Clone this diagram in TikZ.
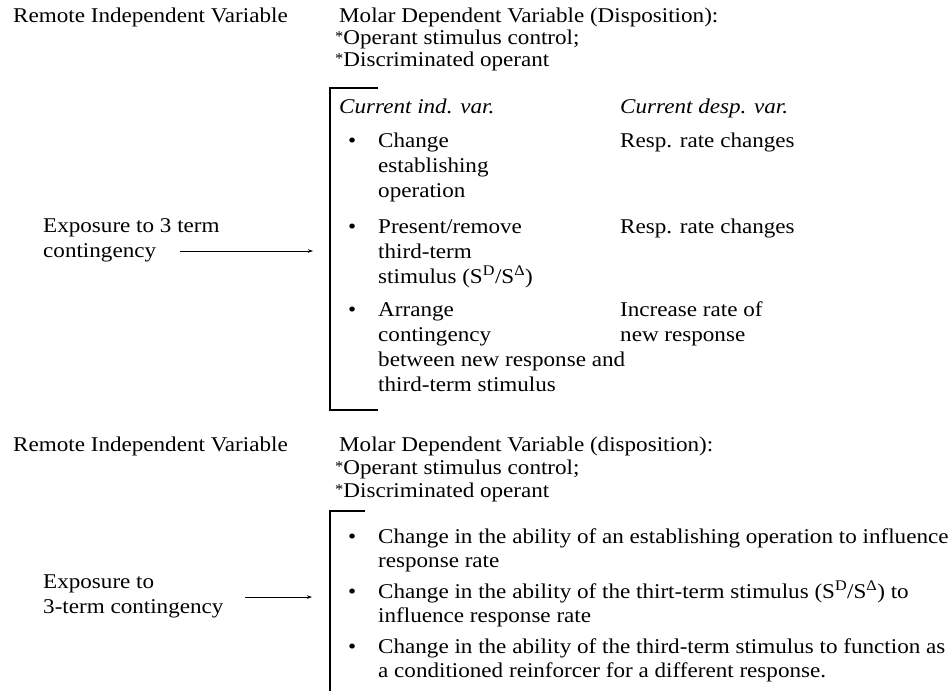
\documentclass[tikz,border=0pt]{standalone}
\usepackage{fontspec}
\setmainfont{Liberation Serif}[FakeStretch=1.1]
\usetikzlibrary{arrows.meta}
\newcommand{\fs}{\fontsize{21}{25}\selectfont}
\newcommand{\smstar}{\raisebox{0.12em}{\fontsize{15}{15}\selectfont*}}
\newcommand{\sds}{(S\textsuperscript{D}/S\textsuperscript{Δ})}
\tikzset{
  tx/.style={anchor=base west, inner sep=0pt, font=\fs},
  it/.style={tx, font=\fs\itshape},
  bul/.style={tx},
  conn/.style={line width=0.9pt, -{Stealth[length=5pt,width=3.5pt]}},
  brk/.style={line width=1.6pt},
}
\begin{document}
\begin{tikzpicture}[x=1pt,y=-1pt]
\useasboundingbox (0,0) rectangle (949,691);
% ---- top block
\node[tx] (r1) at (13,22) {Remote Independent Variable};
\node[tx] (m1) at (339,22) {Molar Dependent Variable (Disposition):};
\node[tx] (m1a) at (335,44) {\smstar Operant stimulus control;};
\node[tx] (m1b) at (335,66) {\smstar Discriminated operant};
\node[it] (h1) at (339,113) {Current ind. var.};
\node[it] (h2) at (620,113) {Current desp. var.};
\node[bul] (b1) at (348,147) {\textbullet};
\node[tx] (c1a) at (378,147) {Change};
\node[tx] (c1b) at (378,172) {establishing};
\node[tx] (c1c) at (378,197) {operation};
\node[tx] (d1) at (620,147) {Resp. rate changes};
\node[bul] (b2) at (348,233) {\textbullet};
\node[tx] (c2a) at (378,233) {Present/remove};
\node[tx] (c2b) at (378,258) {third-term};
\node[tx] (c2c) at (378,283) {stimulus \sds};
\node[tx] (d2) at (620,233) {Resp. rate changes};
\node[bul] (b3) at (348,316) {\textbullet};
\node[tx] (c3a) at (378,316) {Arrange};
\node[tx] (c3b) at (378,341) {contingency};
\node[tx] (c3c) at (378,366) {between new response and};
\node[tx] (c3d) at (378,391) {third-term stimulus};
\node[tx] (d3a) at (620,316) {Increase rate of};
\node[tx] (d3b) at (620,341) {new response};
\node[tx] (e1a) at (43,232) {Exposure to 3 term};
\node[tx] (e1b) at (43,257) {contingency};
\coordinate (s1) at (180,251);
\coordinate (t1) at (313,251);
\draw[conn] (s1) -- (t1);
\draw[brk] (378,88) -- (330,88) -- (330,410) -- (378,410);
% ---- bottom block
\node[tx] (r2) at (13,451) {Remote Independent Variable};
\node[tx] (m2) at (339,451) {Molar Dependent Variable (disposition):};
\node[tx] (m2a) at (335,474) {\smstar Operant stimulus control;};
\node[tx] (m2b) at (335,497) {\smstar Discriminated operant};
\node[bul] (b4) at (348,543) {\textbullet};
\node[tx] (f1a) at (378,543) {Change in the ability of an establishing operation to influence};
\node[tx] (f1b) at (378,567) {response rate};
\node[bul] (b5) at (348,598) {\textbullet};
\node[tx] (f2a) at (378,598) {Change in the ability of the thirt-term stimulus \sds\ to};
\node[tx] (f2b) at (378,622) {influence response rate};
\node[bul] (b6) at (348,653) {\textbullet};
\node[tx] (f3a) at (378,653) {Change in the ability of the third-term stimulus to function as};
\node[tx] (f3b) at (378,677) {a conditioned reinforcer for a different response.};
\node[tx] (e2a) at (43,588) {Exposure to};
\node[tx] (e2b) at (43,613) {3-term contingency};
\coordinate (s2) at (245,597);
\coordinate (t2) at (312,597);
\draw[conn] (s2) -- (t2);
\draw[brk] (365,511) -- (330,511) -- (330,691);
\end{tikzpicture}
\end{document}
